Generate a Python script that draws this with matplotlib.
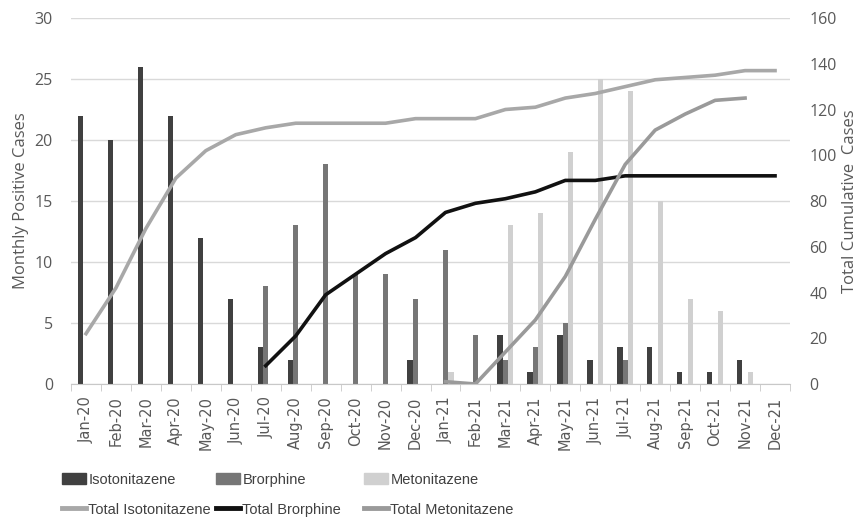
import numpy as np
import matplotlib
matplotlib.use("Agg")
import matplotlib.pyplot as plt
from matplotlib.patches import Patch
from matplotlib.lines import Line2D

plt.rcParams['font.family'] = ['Open Sans', 'DejaVu Sans']

months = ["Jan-20", "Feb-20", "Mar-20", "Apr-20", "May-20", "Jun-20", "Jul-20", "Aug-20",
          "Sep-20", "Oct-20", "Nov-20", "Dec-20", "Jan-21", "Feb-21", "Mar-21", "Apr-21",
          "May-21", "Jun-21", "Jul-21", "Aug-21", "Sep-21", "Oct-21", "Nov-21", "Dec-21"]

# monthly positives
isotonitazene = [22, 20, 26, 22, 12, 7, 3, 2, 0, 0, 0, 2, 0, 0, 4, 1, 4, 2, 3, 3, 1, 1, 2, 0]
brorphine = [0, 0, 0, 0, 0, 0, 8, 13, 18, 9, 9, 7, 11, 4, 2, 3, 5, 0, 2, 0, 0, 0, 0, 0]
metonitazene = [0, 0, 0, 0, 0, 0, 0, 0, 0, 0, 0, 0, 1, 0, 13, 14, 19, 25, 24, 15, 7, 6, 1, 0]

# cumulative totals (None = not plotted)
total_iso = [22, 42, 68, 90, 102, 109, 112, 114, 114, 114, 114, 116, 116, 116, 120, 121,
             125, 127, 130, 133, 134, 135, 137, 137]
total_bror = [None] * 6 + [8, 21, 39, 48, 57, 64, 75, 79, 81, 84, 89, 89, 91, 91, 91, 91, 91, 91]
total_meto = [None] * 12 + [1, 0, 14, 28, 47, 72, 96, 111, 118, 124, 125, None]

c_iso, c_bror, c_meto = "#404040", "#767676", "#d0d0d0"
c_tiso, c_tbror, c_tmeto = "#a8a8a8", "#111111", "#9a9a9a"
txt = "#595959"

fig = plt.figure(figsize=(8.61, 5.21), dpi=100)
ax = fig.add_axes([71 / 861, 1 - 384 / 521, (790 - 71) / 861, (384 - 18) / 521])
x = np.arange(len(months))
w = 0.18
ax.bar(x - w, isotonitazene, w, color=c_iso, zorder=2)
ax.bar(x, brorphine, w, color=c_bror, zorder=2)
ax.bar(x + w, metonitazene, w, color=c_meto, zorder=2)

ax.set_xlim(-0.5, len(months) - 0.5)
ax.set_ylim(0, 30)
ax.set_yticks(range(0, 31, 5))
ax.yaxis.grid(True, color="#d9d9d9", linewidth=1)
ax.set_axisbelow(True)
for s in ["top", "right", "left"]:
    ax.spines[s].set_visible(False)
ax.spines["bottom"].set_color("#c8c8c8")
ax.set_xticks(x)
ax.set_xticklabels(months, rotation=90, fontsize=10.5, color=txt, family="DejaVu Sans")
ax.tick_params(axis="x", length=0, pad=9)
ax.set_xticks(np.arange(-0.5, len(months)), minor=True)
ax.tick_params(axis="x", which="minor", length=5, color="#c8c8c8")
ax.tick_params(axis="y", length=0, labelsize=11.5, labelcolor=txt, pad=13)
ax.set_ylabel("Monthly Positive Cases", fontsize=12, color=txt, labelpad=4)

ax2 = ax.twinx()
ax2.plot(x, [np.nan if v is None else v for v in total_iso], color=c_tiso, lw=2.6)
ax2.plot(x, [np.nan if v is None else v for v in total_bror], color=c_tbror, lw=2.6)
ax2.plot(x, [np.nan if v is None else v for v in total_meto], color=c_tmeto, lw=2.6)
ax2.set_ylim(0, 160)
ax2.set_yticks(range(0, 161, 20))
for s in ax2.spines.values():
    s.set_visible(False)
ax2.tick_params(axis="y", length=0, labelsize=11.5, labelcolor=txt, pad=14)
ax2.set_ylabel("Total Cumulative  Cases", fontsize=12, color=txt, labelpad=4)

# legend: three columns, bar on top row, total line below
legend_cols = [(60, c_iso, c_tiso, "Isotonitazene", "Total Isotonitazene"),
               (214, c_bror, c_tbror, "Brorphine", "Total Brorphine"),
               (362, c_meto, c_tmeto, "Metonitazene", "Total Metonitazene")]
for px, cb, cl, lb, ll in legend_cols:
    fig.legend([Patch(color=cb), Line2D([], [], color=cl, lw=3.5)], [lb, ll],
               loc="lower left", bbox_to_anchor=(px / 861, 0.004), borderaxespad=0.0,
               borderpad=0.15, frameon=False, labelcolor="#404040",
               prop={"family": "Liberation Sans", "size": 10.5},
               handlelength=1.6, handleheight=0.8, handletextpad=0.2, labelspacing=1.1)

fig.savefig("out.png", dpi=100)
